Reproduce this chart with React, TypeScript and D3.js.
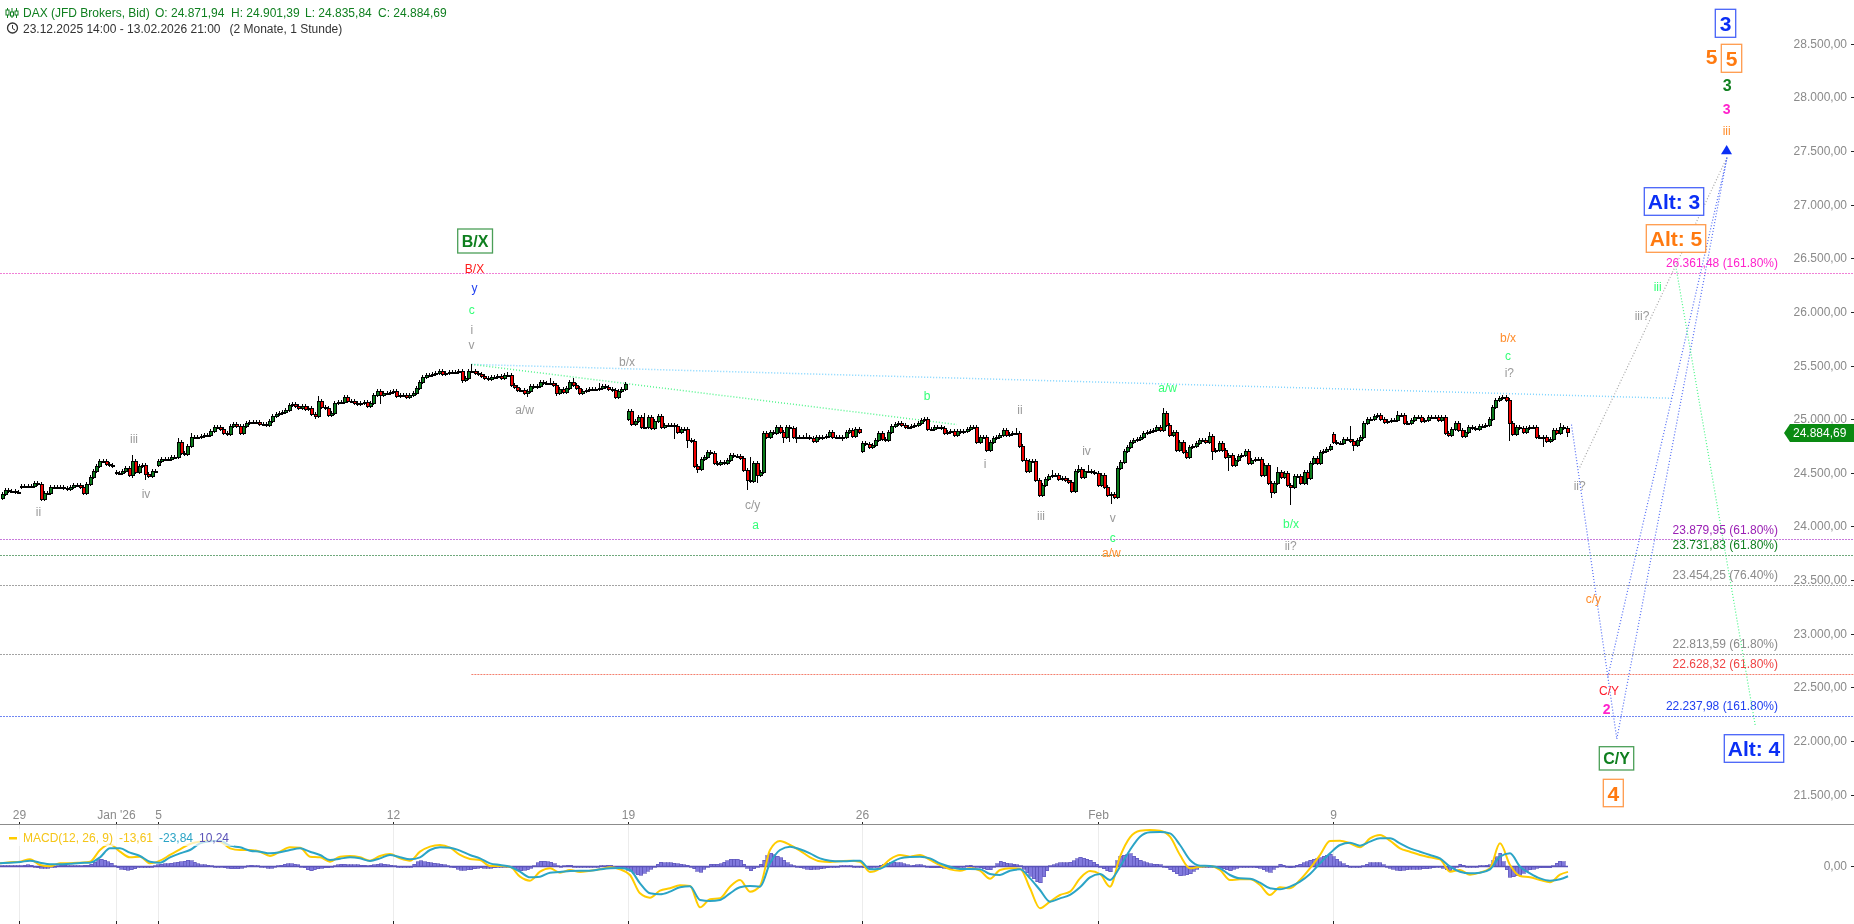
import React from "react";
import * as d3 from "d3";

// ---------- price data (hourly bars) ----------
const sessionAOpen = 24262;
const sessionA = [24303,24340,24334,24327,24321,24318];
const sessionBOpen = 24371;
const sessionB = [24377,24377,24377,24380,24402,24396,24259,24309,24315,24371,24371,24371,24365,24358,24349,24371,24383,24383,24371,24315,24396,24458,24514,24564,24613,24613,24582,24570,24564];
const sessionCOpen = 24508;
const sessionC = [24501,24495,24514,24542,24480,24613,24508,24564,24570,24489,24470,24520,24520];
const sessionDOpen = 24573;
const sessionD = [24613,24626,24626,24632,24644,24651,24787,24682,24675,24750,24837,24837,24831,24843,24849,24849,24893,24924,24924,24905,24868,24862,24936,24955,24936,24874,24936,24967,24971,24974,24974,24955,24952,24946,24986,25030,25048,25061,25067,25086,25135,25141,25123,25101,25123,25092,25101,25048,25030,25166,25117,25101,25039,25061,25148,25160,25163,25204,25166,25166,25154,25141,25154,25157,25123,25154,25225,25266,25225,25241,25247,25256,25266,25216,25225,25225,25210,25225,25247,25287,25346,25396,25409,25415,25421,25427,25446,25421,25433,25440,25440,25443,25446,25365,25381,25446,25452,25433,25421,25402,25381,25378,25396,25390,25402,25381,25415,25415,25319,25303,25272,25272,25247,25266,25312,25297,25309,25346,25340,25334,25334,25319,25241,25278,25256,25287,25343,25319,25287,25247,25266,25272,25278,25284,25284,25287,25309,25297,25284,25272,25204,25266,25278,25328];
const sessionEOpen = 24998;
const sessionE = [25079,24955,24986,25017,24930,24930,25023,24915,24986,25033,24924,24942,24946,24946,24939,24883,24911,24911,24806,24796,24563,24539,24626,24650,24694,24681,24588,24582,24604,24588,24619,24663,24657,24657,24635,24526,24433,24424,24594,24479,24511,24874,24837,24883,24868,24924,24883,24831,24924,24915,24831,24831,24831,24831,24831,24821,24793,24831,24821,24837,24843,24877,24837,24831,24831,24837,24883,24899,24843,24905,24883];
const sessionFOpen = 24700;
const sessionF = [24775,24768,24744,24759,24806,24868,24812,24806,24883,24936,24955,24961,24946,24930,24924,24936,24946,24967,24992,24998,24905,24905,24924,24924,24914,24868,24883,24893,24852,24893,24883,24893,24905,24930,24924,24790,24831,24837,24713,24790,24821,24831,24852,24899,24852,24862,24874,24874,24750,24619,24520,24613,24613,24433,24293,24386,24439,24470,24480,24480,24439,24448,24433,24417,24333,24520,24532,24464,24520,24520,24511,24495,24386,24480,24365,24293,24302,24278,24542,24604,24706,24744,24790,24806,24812,24837,24874,24883,24893,24899,24924,24899,25054,24946,24852,24883,24713,24790,24697,24650,24744,24750,24781,24806,24806,24790,24843,24703,24713,24775,24713,24644,24666,24573,24619,24657,24666,24706,24588,24619,24632,24632,24480,24573,24403,24325,24403,24511,24465,24502,24387,24371,24471,24471,24409,24511,24449,24589,24636,24595,24698,24707,24719,24751];
const sessionGOpen = 24859;
const sessionG = [24791,24782,24782,24813,24813,24800,24760,24807,24831,24962,25005,25005,25030,25036,25000,24977,24987,24993,24993,25040,25043,24962,24968,24993,25018,25018,24987,24993,25024,25018,25018,24993,25024,24869,24853,24906,24962,24900,24844,24884,24925,24915,24906,24937,24937,24946,25000,25111,25179,25198,25204,25179,24968,24862,24931,24915,24884,24915,24931,24931,24838,24838,24831,24800,24813,24900,24869,24931,24915,24884.69];

const sessionOpens = [sessionAOpen, sessionBOpen, sessionCOpen, sessionDOpen, sessionEOpen, sessionFOpen, sessionGOpen];
const sessionCloses = [sessionA, sessionB, sessionC, sessionD, sessionE, sessionF, sessionG];

// long shadows: [bar, high, low] (0 = no long shadow on that side)
const longWicks = [
  [11,24424,0],[40,24666,24449],[44,0,24433],[54,24821,0],[58,24874,0],[96,0,25002],[97,25216,0],[100,0,25023],[116,0,25138],
  [141,0,25340],[144,25511,0],[155,25443,0],[161,0,25210],[168,25381,0],[170,0,25220],[175,25387,0],[183,25338,0],[191,25334,0],
  [197,25054,0],[206,24967,24815],[210,0,24728],[213,0,24501],[228,0,24340],[229,24644,0],[231,0,24402],[237,24946,0],[239,0,24775],[241,0,24790],[243,24930,24775],[246,24868,0],[257,0,24800],
  [310,24914,0],[317,0,24271],[321,24526,0],[329,24573,0],[332,24573,0],[339,0,24209],[355,25101,0],[362,0,24635],[369,24877,0],[370,0,24619],[375,0,24520],
  [388,0,24269],[390,24558,0],[394,0,24201],[399,0,24387],[412,24937,0],[413,0,24707],[426,25080,0],[458,25226,0],[459,0,24800],[469,0,24738],[474,24962,0],[476,0,24835.84],
];

// horizontal retracement levels
const levelPrices = [26361.48, 23879.95, 23731.83, 23454.25, 22813.59, 22628.32, 22237.98];
const levelPercents = ["161.80%", "61.80%", "61.80%", "76.40%", "61.80%", "61.80%", "161.80%"];
const levelColors = ["#f07fd6", "#c879dc", "#6fa87c", "#a3a3a3", "#a3a3a3", "#f4806f", "#6f86f3"];
const levelTextColors = ["#ff22cc", "#9a1fb4", "#0f7f1f", "#8a8a8a", "#8a8a8a", "#ee4444", "#1f3ff0"];
const levelStartBar = [0, 0, 0, 0, 0, 144, 0];
const levelTextY = [263, 530, 545, 575, 644, 664, 706];

// MACD, one sample per three hourly bars
const macdValues = [6.2,8.5,10.1,15.5,2.3,-0.8,6.2,6.2,7.8,10.1,37.2,50.4,33.3,20.2,21.7,6.2,12.4,25.6,38.8,51.2,56.6,58.9,56.6,41.1,37.2,37.2,33.3,23.3,33.3,43.4,42.6,21.7,20.2,10.1,21.7,23.3,20.2,12.4,23.3,27.9,17.8,12.4,33.3,45,48.8,42.6,25.6,16.3,14,0,0,-1.6,-24.8,-34.1,-13.2,-5.4,-15.5,-9.3,-14,-10.9,-7.8,-3.1,-7.8,
  -20.9,-63.6,-73.6,-57.4,-51.9,-45,-46.5,-96.1,-77.5,-75.2,-48,-32.6,-59.7,-46.5,37.2,58.1,48.8,35.7,20.2,10.9,9.3,10.9,12.4,10.1,-14,-5.4,15.5,25.6,21.7,25.6,14,2.3,-7.8,-10.9,-5.4,-10.9,-29.5,-9.3,-5.4,-6.2,-51.9,-98.4,-82.9,-67.4,-59.7,-28.7,-11.6,-18.6,-48,21.7,66.7,82.2,83.7,82.2,68.2,25.6,-5.4,-1.6,0,-9.3,-32.6,-31,-31,
  -44.2,-67.4,-49.6,-51.9,-32.6,-5.4,25.6,58.1,58.9,52.7,43.4,64.3,72.1,58.9,41.1,33.3,25.6,20.2,15.5,-13.2,-9.3,-20.2,-15.5,-5.4,52.7,2.3,-23.3,-26.4,-32.6,-38,-20.2,-13.61];
const signalValues = [6.2,7.8,9.3,12.4,7.8,3.9,3.9,5.4,7,7.8,20.2,41.1,41.1,31,23.3,10.1,7.8,20.2,29.5,37.2,52.7,57.4,58.9,47.3,43.4,35.7,33.3,29.5,31.8,37.2,41.1,33.3,25.6,14,17,20.2,17.8,11.6,17.8,25.6,20.2,15.5,20.2,37.2,43.4,42.6,35.7,25.6,17.8,6.2,2.3,-1.6,-13.2,-26.4,-24.8,-15.5,-14,-11.6,-10.9,-10.9,-7.8,-5.4,-4.7,
  -9.3,-40.3,-63.6,-65.9,-59.7,-49.6,-47.3,-79,-81.4,-79,-63.6,-49.6,-46.5,-48,6.2,37.2,45,38.8,29.5,17.8,12.4,10.9,11.6,12.4,-7.8,-6.2,6.2,17.8,20.9,21.7,17.8,6.2,-1.6,-7,-7,-7.8,-18.6,-20.9,-10.9,-7.8,-28.7,-55.8,-82.9,-75.2,-67.4,-49.6,-26.4,-18.6,-32.6,-1.6,37.2,68.2,78.3,79,75.9,48.8,14,0.8,0,-5.4,-20.9,-28.7,-29.5,
  -38.8,-51.9,-54.2,-48,-36.4,-18.6,6.2,29.5,48.8,54.2,47.3,56.6,64.3,64.3,52.7,41.1,33.3,25.6,17.8,-1.6,-13.2,-17,-15.5,-7.8,21.7,29.5,-1.6,-17,-28.7,-34.1,-31,-23.84];

const timeTickLabels = ["29", "Jan '26", "5", "12", "19", "26", "Feb", "9"];
const timeTickBars = [5.5, 35, 48, 120, 192, 263, 335, 407];
const priceTicks = d3.range(21500, 28501, 500);

// ---------- scales ----------
const WIDTH = 1854, HEIGHT = 924;
const opens: number[] = [], closes: number[] = [];
const sessionStarts: number[] = [];
sessionCloses.forEach((s, k) => {
  sessionStarts.push(closes.length);
  s.forEach((c, i) => {
    opens.push(i === 0 ? sessionOpens[k] : s[i - 1]);
    closes.push(c);
  });
});
const N = closes.length;
const barAnchors = [0, sessionStarts[4], sessionStarts[5], sessionStarts[6], N - 1, N - 1 + 100];
const x = d3.scaleLinear().domain(barAnchors).range([1.5, 628, 862, 1333, 1566.5, 1897.5]);
const y = d3.scaleLinear().domain([21500, 28500]).range([794.7, 43.7]);
const sampleX = d3.scaleLinear().domain([0, 156, 157]).range([0, 1560, 1568]);
const macdY = d3.scaleLinear().domain([-100, 100]).range([909, 823]);
const histY = d3.scaleLinear().domain([-100, 100]).range([908, 824]);
const yPx = (p: number) => Math.round(y(p));
const fmt = d3.formatLocale({ decimal: ",", thousands: ".", grouping: [3], currency: ["", ""] }).format(",.2f");

// histogram is MACD minus signal, drawn one bar per hourly slot
const histogramValues = macdValues.map((m, i) => m - signalValues[i]);
const histAtX = d3.scaleLinear().domain(macdValues.map((_, i) => sampleX(i))).range(histogramValues);
const histBarWidth = 3.33;
const histSlots = d3.range(0, Math.floor(1568 / histBarWidth));

// dotted wave paths as [bar, price]; bars past the last one are the projection
const lastBar = N - 1;
const trendTop = [144, 25511] as const;
const lineCyan = [trendTop, [lastBar + 32, 25195]];
const lineGreenA = [trendTop, [292, 24950]];
const lineWave2 = [[lastBar + 1.5, 24950], [lastBar + 15.2, 22020]];
const lineUp1 = [[lastBar + 12.5, 22600], [lastBar + 48.5, 27440]];
const lineUp2 = [[lastBar + 15.2, 22020], [lastBar + 48.5, 27440]];
const lineGrey = [[lastBar + 4, 24550], [lastBar + 48.5, 27440]];
const lineLime = [[lastBar + 33, 26430], [lastBar + 57, 22150]];

const small = [
  ["ii", 38.4, 512, "#9a9a9a"], ["iii", 134, 439, "#9a9a9a"], ["iv", 146, 494, "#9a9a9a"], ["v", 471.5, 345, "#9a9a9a"],
  ["i", 471.8, 330, "#9a9a9a"], ["c", 471.8, 310, "#33ff77"], ["y", 474.5, 288, "#1f3ff0"], ["B/X", 474.5, 269, "#ff1a1a"],
  ["a/w", 524.5, 410, "#9a9a9a"], ["b/x", 627, 362, "#9a9a9a"], ["c/y", 752.6, 505, "#9a9a9a"], ["a", 755.5, 525, "#33ff77"],
  ["b", 927, 396, "#33ff77"], ["i", 985, 464, "#9a9a9a"], ["ii", 1020, 410, "#9a9a9a"], ["iii", 1041, 516, "#9a9a9a"],
  ["iv", 1086.5, 451, "#9a9a9a"], ["v", 1112.7, 518, "#9a9a9a"], ["c", 1112.7, 538, "#33ff77"], ["a/w", 1111.4, 553, "#ff8c2b"],
  ["a/w", 1167.7, 388, "#33ff77"], ["b/x", 1291, 524, "#33ff77"], ["ii?", 1290.7, 546, "#9a9a9a"], ["b/x", 1508, 338, "#ff8c2b"],
  ["c", 1508, 356, "#33ff77"], ["i?", 1509.3, 373, "#9a9a9a"], ["ii?", 1579.7, 486, "#9a9a9a"], ["iii?", 1642, 316, "#9a9a9a"],
  ["iii", 1657.7, 287, "#33ff77"], ["iii", 1726.7, 131, "#ff8c2b"], ["c/y", 1593.3, 599, "#ff8c2b"], ["C/Y", 1609, 691, "#ff1a2a"],
] as [string, number, number, string][];

const boxes = [
  ["B/X", 457.7, 229, 34.8, 24, "#0f7f1f", 16],
  ["3", 1715.3, 9.3, 20.4, 28, "#0b2ff5", 21],
  ["5", 1721.3, 44.3, 20.4, 28, "#ff7a10", 21],
  ["Alt: 3", 1644.3, 187.7, 59.4, 27.6, "#0b2ff5", 21],
  ["Alt: 5", 1646.3, 224.7, 59.4, 27.6, "#ff7a10", 21],
  ["C/Y", 1599.3, 746.7, 34.4, 23.3, "#0f7f1f", 16],
  ["4", 1603.3, 779.3, 20, 27.4, "#ff7a10", 21],
  ["Alt: 4", 1724.3, 734.7, 59.4, 27.6, "#0b2ff5", 21],
] as [string, number, number, number, number, string, number][];

const free = [
  ["5", 1711.7, 56, "#ff7a10", 21], ["3", 1727.3, 85, "#0f7f1f", 16], ["3", 1726.7, 109, "#ff22cc", 14], ["2", 1606.7, 709, "#ff22cc", 14],
] as [string, number, number, string, number][];

const FONT = "'Liberation Sans', Arial, sans-serif";

function Dotted({ pts, color, w = 1.2 }: { pts: readonly (readonly number[])[]; color: string; w?: number }) {
  const line = d3.line<readonly number[]>().x((d) => x(d[0])).y((d) => y(d[1]));
  return <path d={line(pts) || ""} fill="none" stroke={color} strokeWidth={w} strokeDasharray="1 2" />;
}

export default function App() {
  const wickMap = new Map(longWicks.map((w) => [w[0], w]));
  const macdLine = d3.line<number>().x((_, i) => sampleX(i)).y((d) => macdY(d)).curve(d3.curveMonotoneX);
  const zeroY = Math.round(macdY(0));
  return (
    <div style={{ position: "absolute", left: 0, top: 0, width: WIDTH, height: HEIGHT, overflow: "hidden", willChange: "transform" }}>
    <svg width={WIDTH} height={HEIGHT} style={{ display: "block" }} fontFamily={FONT} fontSize={12}>
      {/* header */}
      <g stroke="#0f7f1f" fill="none">
        <path d="M7.5 8V18M12 8V18M16.5 8V18" />
        <rect x={6} y={10} width={3} height={5} fill="#fff" />
        <rect x={10.5} y={12} width={3} height={4} fill="#fff" />
        <rect x={15} y={11} width={3} height={4} fill="#fff" />
      </g>
      <circle cx={12.5} cy={28} r={5} fill="none" stroke="#333" strokeWidth={1.3} />
      <path d="M12.5 25V28.5L15 30" fill="none" stroke="#333" />
      <g fill="#0f7f1f">
        <text x={23} y={17}>DAX (JFD Brokers, Bid)</text>
        <text x={155} y={17}>O: 24.871,94</text>
        <text x={231} y={17}>H: 24.901,39</text>
        <text x={305} y={17}>L: 24.835,84</text>
        <text x={378} y={17}>C: 24.884,69</text>
      </g>
      <g fill="#333">
        <text x={23} y={33}>23.12.2025 14:00 - 13.02.2026 21:00</text>
        <text x={229.5} y={33}>(2 Monate, 1 Stunde)</text>
      </g>

      {/* levels */}
      {levelPrices.map((p, i) => (
        <g key={p}>
          <line x1={i === 5 ? x(levelStartBar[i]) : 0} x2={WIDTH} y1={yPx(p) + 0.5} y2={yPx(p) + 0.5} stroke={levelColors[i]} strokeDasharray="2 1" />
          <text x={1778} y={levelTextY[i] + 4} textAnchor="end" fill={levelTextColors[i]}>{`${fmt(p)} (${levelPercents[i]})`}</text>
        </g>
      ))}

      {/* wave lines */}
      <Dotted pts={lineCyan} color="#7fd4ff" w={1.5} />
      <Dotted pts={lineGreenA} color="#55f58e" w={1.5} />
      <Dotted pts={lineGrey} color="#a8a8a8" />
      <Dotted pts={lineWave2} color="#4f6af5" />
      <Dotted pts={lineUp1} color="#4f6af5" />
      <Dotted pts={lineUp2} color="#4f6af5" />
      <Dotted pts={lineLime} color="#45f585" />

      {/* candles */}
      <g>
        {closes.map((c, i) => {
          const o = opens[i];
          const cx = Math.round(x(i));
          const top = yPx(Math.max(o, c));
          const bot = yPx(Math.min(o, c));
          const w = wickMap.get(i);
          const wTop = w && w[1] ? Math.min(yPx(w[1]), top - 2) : top - 2;
          const wBot = w && w[2] ? Math.max(yPx(w[2]), bot + 2) : bot + 2;
          return (
            <g key={i} shapeRendering="crispEdges">
              <line x1={cx + 0.5} x2={cx + 0.5} y1={wTop} y2={wBot} stroke="#000" />
              <rect x={cx - 1} y={top + 0.5} width={3} height={Math.max(bot - top, 1)} fill={c >= o ? "#0a7a1a" : "#f20000"} stroke="#000" />
            </g>
          );
        })}
      </g>

      {/* triangle head */}
      <path d="M1726.7 145L1732 154.3L1721 154.3Z" fill="#0b2ff5" />

      {/* wave labels */}
      {small.map(([t, lx, ly, col], i) => (
        <text key={i} x={lx} y={ly + 4} textAnchor="middle" fill={col}>{t}</text>
      ))}
      {free.map(([t, lx, ly, col, fs], i) => (
        <text key={i} x={lx} y={ly + fs * 0.36} textAnchor="middle" fill={col} fontSize={fs} fontWeight="bold">{t}</text>
      ))}
      {boxes.map(([t, bx, by, bw, bh, col, fs], i) => (
        <g key={i}>
          <rect x={bx} y={by} width={bw} height={bh} fill="#fff" stroke={col} strokeWidth={1.3} strokeOpacity={0.75} />
          <text x={bx + bw / 2} y={by + bh / 2 + fs * 0.36} textAnchor="middle" fill={col} fontSize={fs} fontWeight="bold">{t}</text>
        </g>
      ))}

      {/* price axis */}
      {priceTicks.map((p) => (
        <g key={p}>
          <text x={1847} y={yPx(p) + 4} textAnchor="end" fill="#8a8a8a">{fmt(p)}</text>
          <line x1={1851} x2={1854} y1={yPx(p) + 0.5} y2={yPx(p) + 0.5} stroke="#222" />
        </g>
      ))}

      {/* last price flag */}
      <path d={`M1784 ${yPx(24884.69) + 1}L1790 424H1854V442H1790Z`} fill="#0a8a12" />
      <text x={1793} y={437} fill="#fff">{fmt(24884.69)}</text>

      {/* time axis and MACD panel */}
      {timeTickBars.map((b, i) => {
        const tx = Math.round(x(b)) + 0.5;
        return (
          <g key={i}>
            <text x={tx} y={819} textAnchor="middle" fill="#8a8a8a">{timeTickLabels[i]}</text>
            <line x1={tx} x2={tx} y1={822} y2={824} stroke="#222" />
            <line x1={tx} x2={tx} y1={825} y2={921} stroke="#ececec" />
            <line x1={tx} x2={tx} y1={921} y2={924} stroke="#222" />
          </g>
        );
      })}
      <line x1={0} x2={WIDTH} y1={824.5} y2={824.5} stroke="#8c8c8c" strokeWidth={1} />

      <g shapeRendering="crispEdges">
        {histSlots.map((k) => {
          const bx = k * histBarWidth;
          const y0 = histY(0), y1 = histY(histAtX(bx + histBarWidth / 2));
          return (
            <rect key={k} x={bx} y={Math.min(y0, y1)} width={histBarWidth} height={Math.max(1, Math.abs(y1 - y0))} fill="#8079dd" stroke="#5a52b8" strokeWidth={0.6} />
          );
        })}
      </g>
      <line x1={0} x2={1568} y1={zeroY + 0.5} y2={zeroY + 0.5} stroke="#5a52b8" strokeWidth={1.6} />
      <path d={macdLine(macdValues) || ""} fill="none" stroke="#ffcc00" strokeWidth={2} />
      <path d={macdLine(signalValues) || ""} fill="none" stroke="#2ba4c6" strokeWidth={2} />

      <rect x={0} y={829} width={234} height={17} fill="#fff" fillOpacity={0.7} />
      <rect x={9} y={837} width={8} height={2.5} fill="#ffcc00" />
      <text x={23} y={842} fill="#f5c518">MACD(12, 26, 9)</text>
      <text x={119} y={842} fill="#f5c518">-13,61</text>
      <text x={159} y={842} fill="#2ba4c6">-23,84</text>
      <text x={199} y={842} fill="#5a52b8">10,24</text>

      <text x={1847} y={870} textAnchor="end" fill="#8a8a8a">0,00</text>
      <line x1={1851} x2={1854} y1={866.5} y2={866.5} stroke="#222" />
    </svg>
    </div>
  );
}
